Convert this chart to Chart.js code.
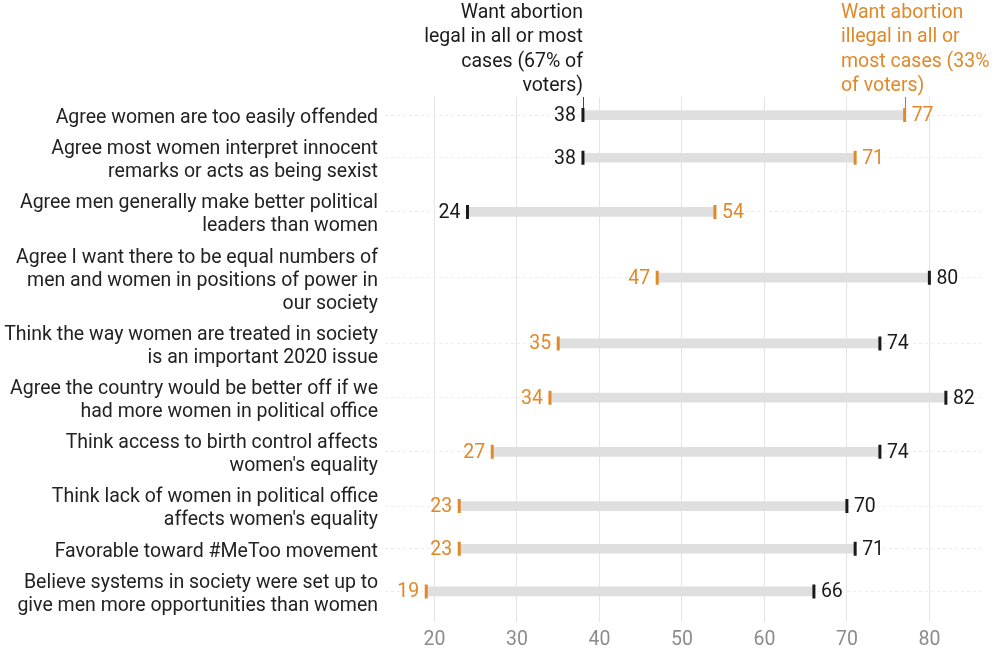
<!DOCTYPE html>
<html>
<head>
<meta charset="utf-8">
<script src="https://cdn.jsdelivr.net/npm/chart.js@4.4.1/dist/chart.umd.min.js"></script>
<style>
  html, body { margin: 0; padding: 0; background: #fff; }
  #wrap { width: 997px; height: 653px; position: relative; }
</style>
</head>
<body>
<div id="wrap"><canvas id="chart"></canvas></div>
<script>
const categories = [
  ['Agree women are too easily offended'],
  ['Agree most women interpret innocent', 'remarks or acts as being sexist'],
  ['Agree men generally make better political', 'leaders than women'],
  ['Agree I want there to be equal numbers of', 'men and women in positions of power in', 'our society'],
  ['Think the way women are treated in society', 'is an important 2020 issue'],
  ['Agree the country would be better off if we', 'had more women in political office'],
  ['Think access to birth control affects', "women's equality"],
  ['Think lack of women in political office', "affects women's equality"],
  ['Favorable toward #MeToo movement'],
  ['Believe systems in society were set up to', 'give men more opportunities than women']
];
const legalValues = [38, 38, 24, 80, 74, 82, 74, 70, 71, 66];
const illegalValues = [77, 71, 54, 47, 35, 34, 27, 23, 23, 19];
const xTicks = [20, 30, 40, 50, 60, 70, 80];
const legalHeader = ['Want abortion', 'legal in all or most', 'cases (67% of', 'voters)'];
const illegalHeader = ['Want abortion', 'illegal in all or', 'most cases (33%', 'of voters)'];

const FONT = 'Roboto, "Liberation Sans", sans-serif';
const SIZE = 19.5;
const BLACK = '#1a1a1a';
const ORANGE = '#e0892b';

// row centres depend on how many lines each label wraps to
const LINE = 23, GAP = 8;
const rowPos = [];
let acc = 0;
categories.forEach(c => {
  const h = c.length * LINE + GAP;
  rowPos.push(acc + h / 2);
  acc += h;
});

const valueLabels = {
  id: 'valueLabels',
  afterDatasetsDraw(chart) {
    const ctx = chart.ctx;
    const xs = chart.scales.x, ys = chart.scales.y;
    ctx.save();
    ctx.font = SIZE + 'px ' + FONT;
    ctx.textBaseline = 'middle';
    rowPos.forEach((p, i) => {
      const y = ys.getPixelForValue(p);
      const l = legalValues[i], r = illegalValues[i];
      const items = [[l, BLACK], [r, ORANGE]].sort((a, b) => a[0] - b[0]);
      ctx.fillStyle = items[0][1];
      ctx.textAlign = 'right';
      ctx.fillText(items[0][0], xs.getPixelForValue(items[0][0]) - 7, y + 1);
      ctx.fillStyle = items[1][1];
      ctx.textAlign = 'left';
      ctx.fillText(items[1][0], xs.getPixelForValue(items[1][0]) + 7, y + 1);
    });

    // leader lines from the headers to the first row
    const top = chart.chartArea.top;
    const y0 = ys.getPixelForValue(rowPos[0]) - 7;
    ctx.lineWidth = 1;
    ctx.strokeStyle = '#444';
    const lx = Math.round(xs.getPixelForValue(legalValues[0])) + 0.5;
    ctx.beginPath(); ctx.moveTo(lx, top); ctx.lineTo(lx, y0); ctx.stroke();
    ctx.strokeStyle = '#888';
    const rx = Math.round(xs.getPixelForValue(illegalValues[0])) + 0.5;
    ctx.beginPath(); ctx.moveTo(rx, top); ctx.lineTo(rx, y0); ctx.stroke();

    // headers
    ctx.fillStyle = BLACK;
    ctx.textAlign = 'right';
    legalHeader.forEach((t, k) => ctx.fillText(t, 583, 13 + k * 24.5));
    ctx.fillStyle = ORANGE;
    ctx.textAlign = 'left';
    illegalHeader.forEach((t, k) => ctx.fillText(t, 841, 13 + k * 24.5));
    ctx.restore();
  }
};

new Chart(document.getElementById('chart'), {
  type: 'scatter',
  data: {
    datasets: [
      {
        type: 'bar',
        indexAxis: 'y',
        data: rowPos.map((p, i) => ({
          x: [Math.min(legalValues[i], illegalValues[i]), Math.max(legalValues[i], illegalValues[i])],
          y: p
        })),
        backgroundColor: '#dfdfdf',
        barThickness: 9,
        order: 3
      },
      {
        data: rowPos.map((p, i) => ({ x: legalValues[i], y: p })),
        pointStyle: 'line',
        rotation: 90,
        radius: 7,
        borderWidth: 3,
        borderColor: BLACK,
        order: 1
      },
      {
        data: rowPos.map((p, i) => ({ x: illegalValues[i], y: p })),
        pointStyle: 'line',
        rotation: 90,
        radius: 7,
        borderWidth: 3,
        borderColor: ORANGE,
        order: 1
      }
    ]
  },
  options: {
    responsive: true,
    maintainAspectRatio: false,
    animation: false,
    events: [],
    layout: { padding: { top: 97, right: 14, bottom: 2, left: 0 } },
    plugins: { legend: { display: false }, tooltip: { enabled: false } },
    scales: {
      x: {
        type: 'linear',
        min: 14,
        max: 86.5,
        offset: false,
        afterBuildTicks: s => { s.ticks = xTicks.map(v => ({ value: v })); },
        afterFit: s => { s.height = 29.5; },
        ticks: { font: { family: FONT, size: SIZE }, color: '#8c8c8c', padding: 7 },
        grid: { color: '#e4e4e4', drawTicks: false, offset: false },
        border: { display: false }
      },
      y: {
        type: 'linear',
        reverse: true,
        offset: false,
        min: rowPos[0] - 18,
        max: rowPos[rowPos.length - 1] + 30,
        afterBuildTicks: s => { s.ticks = rowPos.map(v => ({ value: v })); },
        afterFit: s => { s.width = 385; s.paddingTop = 0; s.paddingBottom = 0; },
        ticks: {
          autoSkip: false,
          callback: (v, i) => categories[i],
          font: { family: FONT, size: SIZE, lineHeight: 23 / SIZE },
          color: '#222',
          padding: 7,
          labelOffset: 3
        },
        grid: { color: '#ececec', drawTicks: false, offset: false },
        border: { display: false, dash: [3, 3] }
      }
    }
  },
  plugins: [valueLabels]
});
</script>
</body>
</html>
